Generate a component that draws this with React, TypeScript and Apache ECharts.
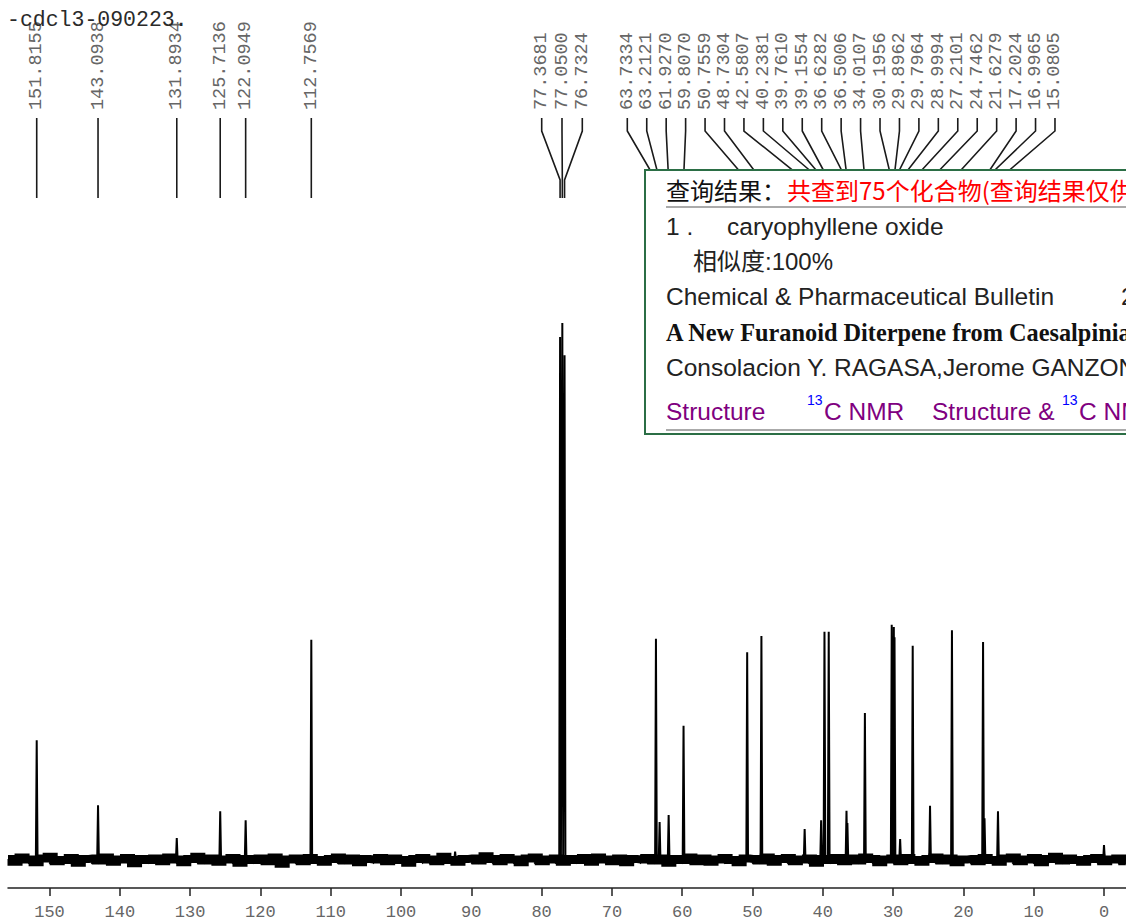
import React, { useEffect, useRef } from 'react';
import * as echarts from 'echarts';

// ---- data (ppm shifts and relative peak heights) ----
const isolatedShifts = [151.8155, 143.0938, 131.8934, 125.7136, 122.0949, 112.7569];
const isolatedHeights = [22.3, 10.2, 4.1, 9.1, 7.4, 41.0];

const solventShifts = [77.3681, 77.05, 76.7324];
const solventHeights = [97.4, 100, 94.0];

const aliphaticShifts = [
  63.7334, 63.2121, 61.927, 59.807, 50.7559, 48.7304, 42.5807, 40.2381, 39.761, 39.1554,
  36.6282, 36.5006, 34.0107, 30.1956, 29.8962, 29.7964, 28.9994, 27.2101, 24.7462, 21.6279,
  17.2024, 16.9965, 15.0805,
];
const aliphaticHeights = [
  41.2, 7.1, 8.4, 25.0, 38.7, 41.7, 5.8, 7.4, 42.5, 42.5,
  9.2, 6.9, 27.4, 43.8, 43.4, 41.5, 3.9, 39.9, 10.1, 42.8,
  40.6, 7.8, 9.1,
];

const unlabeledShifts = [92.3, 0.0];
const unlabeledHeights = [1.6, 2.8];

const baselineStart = 155.9; // ppm of first noise sample, 1 ppm apart
const baselineNoise = [
  0.2, -0.3, 0.5, 0.1, -0.4, 0.3, 0.6, -0.2, 0.0, 0.4,
  -0.5, 0.2, 0.3, -0.1, 0.5, -0.3, 0.1, 0.4, -0.6, 0.2,
  0.0, 0.3, -0.2, 0.5, 0.1, -0.4, 0.2, 0.6, -0.1, 0.3,
  -0.3, 0.1, 0.4, -0.5, 0.2, 0.0, 0.3, -0.2, 0.5, -0.7,
  0.1, 0.3, -0.2, 0.4, 0.0, -0.3, 0.2, 0.5, -0.1, 0.3,
  -0.4, 0.2, 0.1, 0.4, -0.2, 0.3, 0.0, -0.5, 0.2, 0.4,
  0.1, -0.2, 0.6, 0.0, -0.3, 0.2, 0.3, -0.1, 0.7, 0.2,
  -0.2, 0.4, 0.1, -0.4, 0.3, 0.5, -0.2, 0.1, 0.3, -0.3,
  0.2, 0.0, 0.4, -0.3, 0.5, 0.1, -0.2, 0.3, -0.4, 0.2,
  0.1, 0.4, -0.1, 0.3, -0.5, 0.2, 0.0, 0.5, -0.2, 0.3,
  -0.3, 0.1, 0.4, 0.0, -0.4, 0.3, 0.2, -0.1, 0.5, -0.3,
  0.2, 0.4, -0.2, 0.1, 0.3, -0.5, 0.2, 0.0, 0.4, -0.2,
  0.3, -0.1, 0.5, 0.2, -0.4, 0.1, 0.3, -0.2, 0.4, 0.0,
  -0.3, 0.2, 0.5, -0.1, 0.3, -0.4, 0.1, 0.2, -0.2, 0.4,
  0.0, -0.3, 0.3, 0.5, -0.2, 0.1, 0.4, -0.4, 0.2, 0.6,
  -0.1, 0.3, 0.0, -0.3, 0.2, 0.4, -0.2, 0.1, 0.3, -0.2,
];

const axisLabelValues = [0, 10, 20, 30, 40, 50, 60, 70, 80, 90, 100, 110, 120, 130, 140, 150];
const minorTickValues: number[] = [];
for (let v = -3; v <= 155; v++) minorTickValues.push(v);

const titleText = '-cdcl3-090223.';

const X_MIN = -3.13;
const X_MAX = 155.9;

export default function App() {
  const ref = useRef<HTMLDivElement>(null);

  useEffect(() => {
    if (!ref.current) return;
    const chart = echarts.init(ref.current, null, { renderer: 'svg' });

    const peaks: { s: number; h: number }[] = [];
    isolatedShifts.forEach((s, i) => peaks.push({ s, h: isolatedHeights[i] }));
    solventShifts.forEach((s, i) => peaks.push({ s, h: solventHeights[i] }));
    aliphaticShifts.forEach((s, i) => peaks.push({ s, h: aliphaticHeights[i] }));
    unlabeledShifts.forEach((s, i) => peaks.push({ s, h: unlabeledHeights[i] }));
    peaks.sort((a, b) => b.s - a.s);
    const peakData: number[][] = [];
    peaks.forEach((p) => {
      peakData.push([p.s + 0.12, 0], [p.s, p.h], [p.s - 0.12, 0]);
    });
    const baseData = baselineNoise.map((v, i) => [baselineStart - i, v]);

    const axisCommon = {
      type: 'value',
      min: X_MIN,
      max: X_MAX,
      inverse: true,
      position: 'bottom',
      splitLine: { show: false },
    };

    chart.setOption({
      animation: false,
      backgroundColor: '#fff',
      grid: { left: 8, right: 0, top: 323, bottom: 35 },
      xAxis: [
        {
          ...axisCommon,
          axisLine: { show: true, onZero: false, lineStyle: { color: '#222', width: 1.5 } },
          axisTick: { show: true, customValues: axisLabelValues, length: 8, lineStyle: { color: '#222', width: 1.5 } },
          axisLabel: {
            show: true,
            customValues: axisLabelValues,
            margin: 16,
            color: '#666',
            fontFamily: '"Liberation Mono", monospace',
            fontSize: 17,
          },
        },
        {
          ...axisCommon,
          axisLine: { show: false },
          axisTick: { show: true, customValues: minorTickValues, length: 4, lineStyle: { color: '#222', width: 1.2 } },
          axisLabel: { show: false },
        },
      ],
      yAxis: { type: 'value', min: -5.2, max: 100, show: false },
      series: [
        {
          type: 'line',
          xAxisIndex: 0,
          data: baseData,
          step: 'middle',
          showSymbol: false,
          lineStyle: { color: '#000', width: 8, join: 'miter', cap: 'butt' },
          silent: true,
        },
        {
          type: 'line',
          xAxisIndex: 0,
          data: peakData,
          showSymbol: false,
          lineStyle: { color: '#000', width: 2 },
          silent: true,
        },
      ],
    });

    const px = (v: number) => chart.convertToPixel({ xAxisIndex: 0 }, v) as number;
    const labelFont = '18.5px "Liberation Mono", monospace';
    const labelColor = '#666';
    const els: any[] = [];

    const addLabel = (x: number, s: number) => {
      els.push({
        type: 'text',
        x,
        y: 110,
        rotation: Math.PI / 2,
        z: 5,
        style: {
          text: s.toFixed(4),
          fill: labelColor,
          font: labelFont,
          align: 'left',
          verticalAlign: 'middle',
          textAlign: 'left',
          textVerticalAlign: 'middle',
        },
      });
    };
    const addConnector = (lx: number, pxv: number, straight: boolean) => {
      const pts = straight
        ? [[lx, 118], [lx, 198]]
        : [[lx, 118], [lx, 131], [pxv, 180], [pxv, 198]];
      els.push({
        type: 'polyline',
        z: 5,
        shape: { points: pts },
        style: { stroke: '#1a1a1a', lineWidth: 1.6, fill: null },
      });
    };

    isolatedShifts.forEach((s) => {
      const x = px(s);
      addLabel(x, s);
      addConnector(x, x, true);
    });
    solventShifts.forEach((s, i) => {
      const lx = 541.7 + i * 20.3;
      addLabel(lx, s);
      addConnector(lx, px(s), false);
    });
    aliphaticShifts.forEach((s, i) => {
      const lx = 627.3 + i * 19.44;
      addLabel(lx, s);
      addConnector(lx, px(s), false);
    });

    els.push({
      type: 'text',
      x: 7,
      y: 20,
      z: 6,
      style: {
        text: titleText,
        fill: '#2a2a2a',
        font: '21.5px "Liberation Mono", monospace',
        align: 'left',
        verticalAlign: 'middle',
        textAlign: 'left',
        textVerticalAlign: 'middle',
      },
    });

    // result box
    els.push({
      type: 'rect',
      z: 20,
      shape: { x: 645, y: 170, width: 600, height: 264 },
      style: { fill: '#fff', stroke: '#2b6e45', lineWidth: 2 },
    });
    const t = (text: string, x: number, y: number, font: string, fill: string) =>
      els.push({
        type: 'text',
        x,
        y,
        z: 21,
        style: { text, fill, font, align: 'left', verticalAlign: 'middle', textAlign: 'left', textVerticalAlign: 'middle' },
      });
    const sans = '"Liberation Sans", Arial, "Noto Sans CJK SC", sans-serif';
    const cjk = '"Noto Sans CJK SC", sans-serif';
    t('查询结果：', 666, 189, `24px ${cjk}`, '#111');
    t('共查到75个化合物(查询结果仅供参考)', 787, 189, `24px ${cjk}`, '#ff0000');
    els.push({ type: 'rect', z: 21, shape: { x: 666, y: 206, width: 480, height: 2 }, style: { fill: '#aaa' } });
    t('1 .', 666, 226, `24.5px ${sans}`, '#222');
    t('caryophyllene oxide', 727, 226, `24.5px ${sans}`, '#222');
    t('相似度:100%', 693, 261, `24px ${sans}`, '#222');
    t('Chemical & Pharmaceutical Bulletin', 666, 296, `24.5px ${sans}`, '#222');
    t('2', 1121, 296, `24.5px ${sans}`, '#222');
    t('A New Furanoid Diterpene from Caesalpinia pulcherrima', 666, 332, `bold 24.3px "Liberation Serif", "Times New Roman", serif`, '#111');
    t('Consolacion Y. RAGASA,Jerome GANZON', 666, 367, `24.5px ${sans}`, '#222');
    t('Structure', 666, 411, `24.5px ${sans}`, '#800080');
    t('13', 807, 400, `14px ${sans}`, '#0000ff');
    t('C NMR', 824, 411, `24.5px ${sans}`, '#800080');
    t('Structure &', 932, 411, `24.5px ${sans}`, '#800080');
    t('13', 1062, 400, `14px ${sans}`, '#0000ff');
    t('C NMR', 1079, 411, `24.5px ${sans}`, '#800080');
    els.push({ type: 'rect', z: 21, shape: { x: 666, y: 429, width: 480, height: 2 }, style: { fill: '#aaa' } });

    chart.setOption({ graphic: { elements: els } });

    return () => chart.dispose();
  }, []);

  return (
    <div
      ref={ref}
      style={{ position: 'fixed', left: 0, top: 0, width: 1126, height: 923, overflow: 'hidden', background: '#fff' }}
    />
  );
}
